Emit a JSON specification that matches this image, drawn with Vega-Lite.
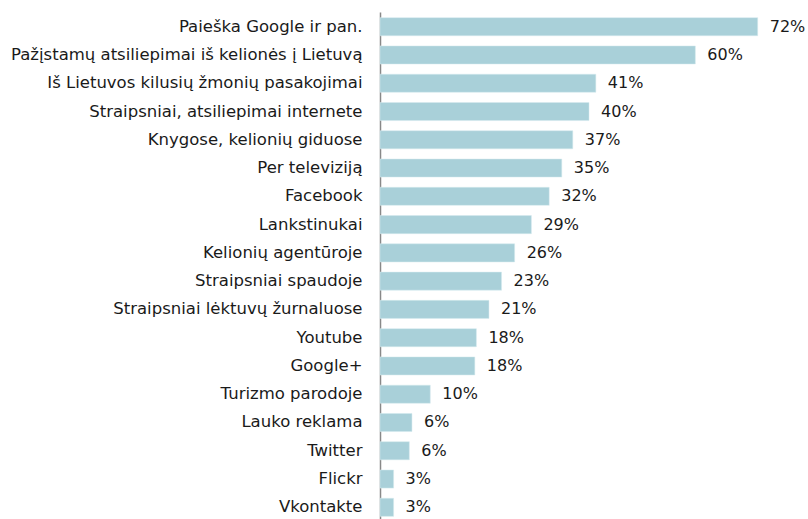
{
  "$schema": "https://vega.github.io/schema/vega-lite/v6.json",
  "width": 428,
  "height": 510,
  "autosize": "none",
  "padding": {"left": 380, "top": 12, "right": 0, "bottom": 0},
  "background": "white",
  "data": {"values": [
    {"kanalas": "Paieška Google ir pan.", "pct": 0.721},
    {"kanalas": "Pažįstamų atsiliepimai iš kelionės į Lietuvą", "pct": 0.602},
    {"kanalas": "Iš Lietuvos kilusių žmonių pasakojimai", "pct": 0.412},
    {"kanalas": "Straipsniai, atsiliepimai internete", "pct": 0.399},
    {"kanalas": "Knygose, kelionių giduose", "pct": 0.368},
    {"kanalas": "Per televiziją", "pct": 0.347},
    {"kanalas": "Facebook", "pct": 0.323},
    {"kanalas": "Lankstinukai", "pct": 0.289},
    {"kanalas": "Kelionių agentūroje", "pct": 0.257},
    {"kanalas": "Straipsniai spaudoje", "pct": 0.232},
    {"kanalas": "Straipsniai lėktuvų žurnaluose", "pct": 0.208},
    {"kanalas": "Youtube", "pct": 0.184},
    {"kanalas": "Google+", "pct": 0.181},
    {"kanalas": "Turizmo parodoje", "pct": 0.096},
    {"kanalas": "Lauko reklama", "pct": 0.061},
    {"kanalas": "Twitter", "pct": 0.056},
    {"kanalas": "Flickr", "pct": 0.026},
    {"kanalas": "Vkontakte", "pct": 0.026}
  ]},
  "encoding": {
    "y": {
      "field": "kanalas", "type": "nominal", "sort": null,
      "scale": {"paddingInner": 0.36, "paddingOuter": 0.2},
      "axis": {
        "title": null, "ticks": false, "domain": true, "domainColor": "#888888", "domainWidth": 1.5,
        "labelFont": "DejaVu Sans", "labelFontSize": 16.5, "labelColor": "#1a1a1a",
        "labelPadding": 18, "labelLimit": 400
      }
    },
    "x": {
      "field": "pct", "type": "quantitative",
      "scale": {"domain": [0, 0.817], "nice": false},
      "axis": null
    }
  },
  "layer": [
    {"mark": {"type": "bar", "color": "#a9d0d9", "stroke": "#d6eaee", "strokeWidth": 0.5}},
    {
      "mark": {"type": "text", "align": "left", "dx": 12, "font": "DejaVu Sans", "fontSize": 16, "color": "#1a1a1a"},
      "encoding": {"text": {"field": "pct", "type": "quantitative", "format": ".0%"}}
    }
  ],
  "config": {"view": {"stroke": null}}
}
